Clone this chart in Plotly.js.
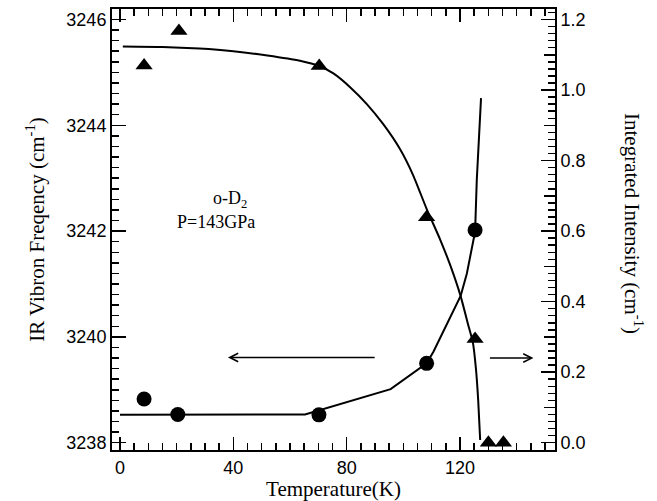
<!DOCTYPE html>
<html>
<head>
<meta charset="utf-8">
<script src="https://cdn.plot.ly/plotly-3.0.1.min.js"></script>
<style>
  html, body { margin: 0; padding: 0; background: #fff; }
</style>
</head>
<body>
<div id="chart"></div>
<script>
// Measured data: IR vibron frequency (triangles, left axis)
const freqT = [8.5, 20.8, 70.3, 108.2, 125.3, 130.0, 135.3];
const freqVal = [3245.13, 3245.78, 3245.12, 3242.26, 3239.96, 3238.0, 3238.0];

// Measured data: integrated intensity (circles, right axis)
const intT = [8.5, 20.4, 70.2, 108.2, 125.3];
const intVal = [0.124, 0.080, 0.079, 0.225, 0.603];

// Guide curve through the frequency data
const freqFitT = [1, 15, 28, 40, 52, 63.5, 70.3, 75.3, 81.2, 87.1, 92.9, 98.8, 103.5, 108.2, 112.9, 116.5, 120.2, 122.9, 124.5, 125.6, 126.4, 127.1];
const freqFit = [3245.49, 3245.48, 3245.45, 3245.40, 3245.32, 3245.22, 3245.12, 3244.98, 3244.72, 3244.40, 3244.02, 3243.55, 3243.05, 3242.42, 3241.85, 3241.36, 3240.77, 3240.22, 3239.90, 3239.40, 3238.80, 3238.05];

// Guide curve through the intensity data
const intFitT = [0, 65.3, 95.5, 108.2, 110.6, 114.1, 117.6, 120.2, 122.4, 124.1, 125.3, 125.9, 127.4];
const intFit = [0.079, 0.080, 0.152, 0.225, 0.258, 0.315, 0.371, 0.416, 0.480, 0.546, 0.598, 0.745, 0.977];

const tickFont = { family: 'Liberation Sans, Arial, sans-serif', size: 18, color: '#000' };
const serif = 'Liberation Serif, Times New Roman, serif';

const traces = [
  { x: freqFitT, y: freqFit, mode: 'lines', line: { color: '#000', width: 2, shape: 'spline', smoothing: 0.5 }, yaxis: 'y', hoverinfo: 'skip' },
  { x: intFitT, y: intFit, mode: 'lines', line: { color: '#000', width: 2 }, yaxis: 'y2', hoverinfo: 'skip' },
  { x: freqT, y: freqVal, mode: 'markers', marker: { symbol: 'triangle-up', size: 15, color: '#000' }, yaxis: 'y' },
  { x: intT, y: intVal, mode: 'markers', marker: { symbol: 'circle', size: 15, color: '#000' }, yaxis: 'y2' },
  { x: [null], y: [null], yaxis: 'y3', mode: 'markers' }
];

const layout = {
  width: 657, height: 501,
  margin: { l: 112, r: 102, t: 9, b: 51 },
  showlegend: false,
  xaxis: {
    range: [-2.82, 153.5], tick0: 0, dtick: 40,
    ticks: 'inside', ticklen: 13, tickwidth: 1.5, tickcolor: '#000',
    minor: { dtick: 5, ticklen: 7, tickwidth: 1.5, tickcolor: '#000', ticks: 'inside' },
    showline: true, linewidth: 2, linecolor: '#000', mirror: 'ticks',
    showgrid: false, zeroline: false, tickfont: tickFont,
    title: { text: 'Temperature(K)', font: { family: serif, size: 21, color: '#000' }, standoff: 4 }
  },
  yaxis: {
    range: [3237.862, 3246.198], dtick: 2,
    ticks: 'inside', ticklen: 14, tickwidth: 1.5, tickcolor: '#000',
    minor: { dtick: 0.2, ticklen: 7, tickwidth: 1.5, tickcolor: '#000', ticks: 'inside' },
    showline: true, linewidth: 2, linecolor: '#000',
    showgrid: false, zeroline: false, tickfont: tickFont,
    title: { text: 'IR Vibron Freqency (cm<sup>-1</sup>)', font: { family: serif, size: 21, color: '#000' }, standoff: 16 }
  },
  yaxis2: {
    overlaying: 'y', side: 'right', anchor: 'x',
    range: [-0.0207, 1.2298], dtick: 0.2, tickformat: '.1f',
    ticks: 'inside', ticklen: 14, tickwidth: 1.5, tickcolor: '#000',
    minor: { dtick: 0.02, ticklen: 7, tickwidth: 1.5, tickcolor: '#000', ticks: 'inside' },
    showline: true, linewidth: 2, linecolor: '#000',
    showgrid: false, zeroline: false, tickfont: tickFont
  },
  yaxis3: {
    overlaying: 'y', side: 'right', anchor: 'x',
    range: [-0.0207, 1.2298], dtick: 0.1,
    ticks: 'inside', ticklen: 11, tickwidth: 1.5, tickcolor: '#000',
    showticklabels: false, showline: false, showgrid: false, zeroline: false
  },
  annotations: [
    { xref: 'x', yref: 'y', x: 38.9, y: 3242.60, text: 'o-D<sub>2</sub>', showarrow: false,
      font: { family: serif, size: 18, color: '#000' }, xanchor: 'center', yanchor: 'middle' },
    { xref: 'x', yref: 'y', x: 33.9, y: 3242.17, text: 'P=143GPa', showarrow: false,
      font: { family: serif, size: 18, color: '#000' }, xanchor: 'center', yanchor: 'middle' },
    { xref: 'x', yref: 'y', axref: 'x', ayref: 'y', x: 38.1, y: 3239.61, ax: 90.4, ay: 3239.61, text: '',
      showarrow: true, arrowhead: 5, arrowsize: 1.1, arrowwidth: 1.5, arrowcolor: '#000', standoff: 0 },
    { xref: 'x', yref: 'y', axref: 'x', ayref: 'y', x: 145.9, y: 3239.60, ax: 130.0, ay: 3239.60, text: '',
      showarrow: true, arrowhead: 5, arrowsize: 1.1, arrowwidth: 1.5, arrowcolor: '#000', standoff: 0 },
    { xref: 'paper', yref: 'paper', x: 1.176, y: 0.5125, text: 'Integrated Intensity (cm<sup>-1</sup>)',
      textangle: 90, showarrow: false, xanchor: 'center', yanchor: 'middle',
      font: { family: serif, size: 21, color: '#000' } }
  ]
};

Plotly.newPlot('chart', traces, layout, { staticPlot: true });
</script>
</body>
</html>
